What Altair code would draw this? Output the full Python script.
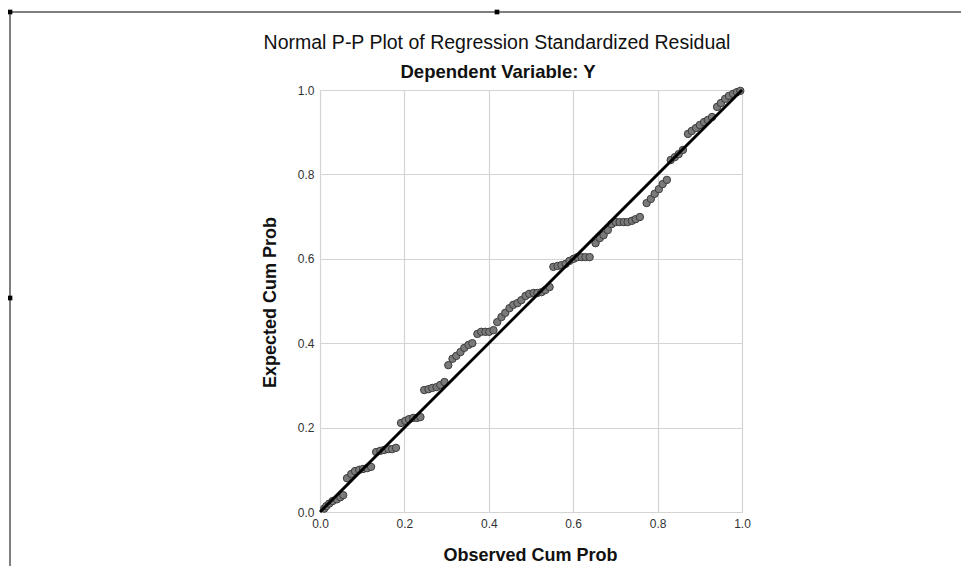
import altair as alt
import pandas as pd

# Observed cumulative probability (x) and expected cumulative probability (y)
observed = [
    0.010, 0.015, 0.022, 0.030, 0.040, 0.048, 0.055,
    0.064, 0.074, 0.083, 0.093, 0.102, 0.112, 0.121,
    0.133, 0.143, 0.152, 0.162, 0.171, 0.180,
    0.192, 0.202, 0.211, 0.221, 0.230, 0.238,
    0.247, 0.257, 0.266, 0.276, 0.285, 0.295,
    0.304, 0.314, 0.323, 0.333, 0.342, 0.352, 0.361,
    0.373, 0.382, 0.392, 0.401, 0.411,
    0.420, 0.430, 0.439, 0.449, 0.458, 0.468, 0.477, 0.487, 0.496, 0.506, 0.515, 0.525, 0.534, 0.544,
    0.553, 0.563, 0.572, 0.582, 0.591, 0.601, 0.610, 0.620, 0.629, 0.639,
    0.653, 0.663, 0.672, 0.682, 0.691, 0.701, 0.710, 0.720, 0.729, 0.739, 0.748, 0.758,
    0.774, 0.784, 0.793, 0.803, 0.812, 0.822,
    0.831, 0.841, 0.850, 0.860,
    0.872, 0.881, 0.891, 0.900, 0.910, 0.919, 0.929,
    0.941, 0.950, 0.960, 0.969, 0.979, 0.988, 0.996,
]
expected = [
    0.008, 0.014, 0.020, 0.026, 0.030, 0.035, 0.040,
    0.080, 0.090, 0.097, 0.100, 0.102, 0.104, 0.107,
    0.142, 0.145, 0.147, 0.149, 0.149, 0.152,
    0.211, 0.216, 0.220, 0.223, 0.223, 0.225,
    0.289, 0.291, 0.294, 0.296, 0.301, 0.308,
    0.348, 0.363, 0.370, 0.379, 0.389, 0.396, 0.400,
    0.422, 0.427, 0.427, 0.427, 0.431,
    0.450, 0.462, 0.472, 0.483, 0.491, 0.495, 0.502, 0.512, 0.517, 0.519, 0.519, 0.521, 0.526, 0.533,
    0.581, 0.583, 0.585, 0.588, 0.595, 0.600, 0.604, 0.604, 0.604, 0.604,
    0.637, 0.649, 0.656, 0.668, 0.682, 0.687, 0.687, 0.687, 0.687, 0.690, 0.694, 0.699,
    0.732, 0.742, 0.754, 0.765, 0.777, 0.787,
    0.834, 0.841, 0.848, 0.858,
    0.896, 0.903, 0.910, 0.917, 0.924, 0.929, 0.936,
    0.960, 0.969, 0.979, 0.986, 0.991, 0.995, 0.998,
]
ref_line_x = [0.0, 1.0]
ref_line_y = [0.0, 1.0]
tick_values = [0.0, 0.2, 0.4, 0.6, 0.8, 1.0]
title_text = "Normal P-P Plot of Regression Standardized Residual"
subtitle_text = "Dependent Variable: Y"

pts = pd.DataFrame({"obs": observed, "exp": expected})
ref = pd.DataFrame({"obs": ref_line_x, "exp": ref_line_y})

FONT = "Liberation Sans"
W = 422
H = 422

xscale = alt.Scale(domain=[0, 1], nice=False, zero=False)
yscale = alt.Scale(domain=[0, 1], nice=False, zero=False)

xaxis = alt.Axis(
    title="Observed Cum Prob", values=tick_values, format=".1f", ticks=False, domain=False,
    grid=True, gridColor="#d4d4d4", gridWidth=1.2, labelFont=FONT, labelFontSize=12,
    labelColor="#333333", labelPadding=6, titleFont=FONT, titleFontSize=18,
    titleFontWeight="bold", titleColor="#111111", titleX=210, titleY=43,
    titleBaseline="middle", labelFlush=False,
)
yaxis = alt.Axis(
    title="Expected Cum Prob", values=tick_values, format=".1f", ticks=False, domain=False,
    grid=True, gridColor="#d4d4d4", gridWidth=1.2, labelFont=FONT, labelFontSize=12,
    labelColor="#333333", labelPadding=6, titleFont=FONT, titleFontSize=18,
    titleFontWeight="bold", titleColor="#111111", titleX=-50, titleY=212,
    titleBaseline="middle", labelFlush=False,
)

points = alt.Chart(pts).mark_point(
    shape="circle", filled=True, size=55, fill="#7a7a7a", stroke="#3c3c3c",
    strokeWidth=1, opacity=1,
).encode(
    x=alt.X("obs:Q", scale=xscale, axis=xaxis),
    y=alt.Y("exp:Q", scale=yscale, axis=yaxis),
)

line = alt.Chart(ref).mark_line(color="#000000", strokeWidth=3).encode(
    x=alt.X("obs:Q", scale=xscale),
    y=alt.Y("exp:Q", scale=yscale),
)

one = alt.Data(values=[{"k": 1}])
title_mark = alt.Chart(one).mark_text(
    text=title_text, font=FONT, fontSize=19.5, fontWeight="normal", color="#111111",
    align="center", baseline="middle",
).encode(x=alt.value(177), y=alt.value(-47))
subtitle_mark = alt.Chart(one).mark_text(
    text=subtitle_text, font=FONT, fontSize=18.5, fontWeight="bold", color="#111111",
    align="center", baseline="middle",
).encode(x=alt.value(178), y=alt.value(-18))

frame_top = alt.Chart(one).mark_rule(color="#000000", strokeWidth=1).encode(
    x=alt.value(-310), x2=alt.value(660), y=alt.value(-78)
)
frame_left = alt.Chart(one).mark_rule(color="#000000", strokeWidth=1).encode(
    x=alt.value(-310), y=alt.value(-78), y2=alt.value(500)
)
handles = alt.layer(
    alt.Chart(one).mark_square(color="#000000", size=22, opacity=1).encode(x=alt.value(-310), y=alt.value(-78)),
    alt.Chart(one).mark_square(color="#000000", size=22, opacity=1).encode(x=alt.value(177), y=alt.value(-78)),
    alt.Chart(one).mark_square(color="#000000", size=22, opacity=1).encode(x=alt.value(-310), y=alt.value(208)),
)

chart = alt.layer(points, line, title_mark, subtitle_mark, frame_top, frame_left, handles).properties(
    width=W,
    height=H,
    autosize=alt.AutoSizeParams(type="none"),
    padding={"left": 312, "top": 82, "right": 219, "bottom": 54},
).configure_view(
    stroke="#9a9a9a", strokeWidth=1.2
).configure(background="#ffffff")

chart.save("out.html", embed_options={"renderer": "svg", "actions": False})
